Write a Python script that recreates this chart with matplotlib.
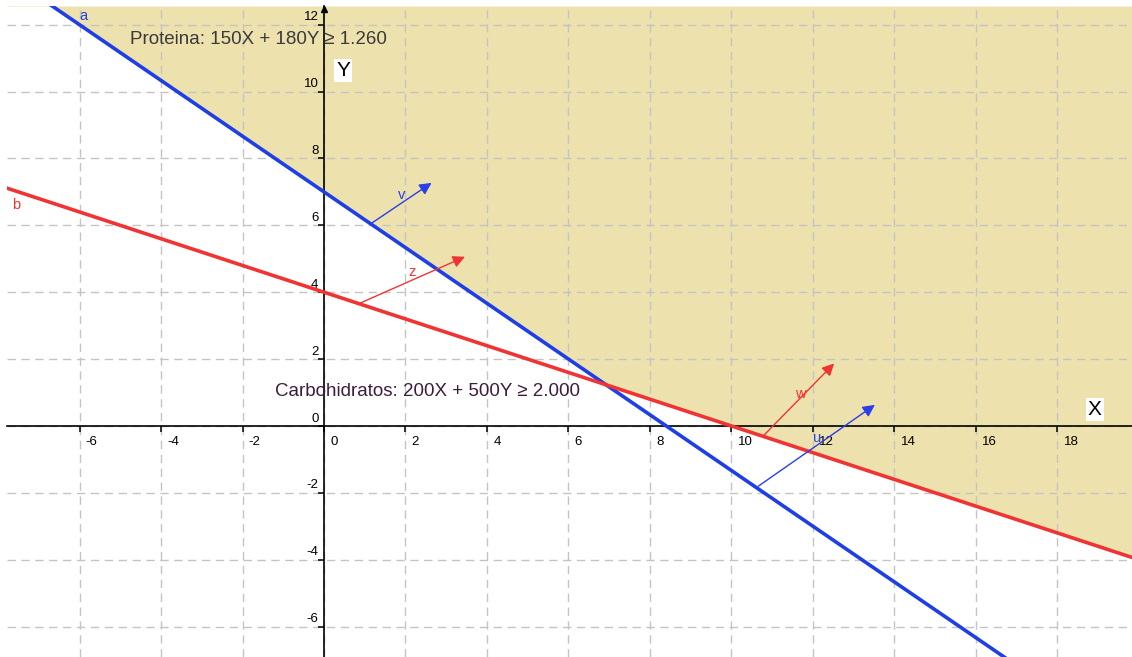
import numpy as np
import matplotlib
matplotlib.use("Agg")
import matplotlib.pyplot as plt

plt.rcParams['font.family'] = ['Liberation Sans', 'DejaVu Sans']

# ---- data ----
# constraint lines: coef_x * X + coef_y * Y = rhs
line_names = ["a", "b"]
coef_x = [150, 200]
coef_y = [180, 500]
rhs = [1260, 2000]
line_colors = ["#1f3fe6", "#f03434"]
line_label_pos = [(-5.9, 12.25), (-7.55, 6.6)]

# vectors (start -> end)
vec_names = ["v", "z", "w", "u"]
vec_start_x = [1.15, 0.86, 10.77, 10.66]
vec_start_y = [6.05, 3.66, -0.31, -1.80]
vec_end_x = [2.64, 3.46, 12.52, 13.52]
vec_end_y = [7.27, 5.06, 1.87, 0.63]
vec_colors = ["#2a3fe8", "#f03434", "#f03434", "#2a3fe8"]
vec_label_x = [1.9, 2.15, 11.7, 12.1]
vec_label_y = [6.9, 4.6, 0.95, -0.36]

x_ticks = [-6, -4, -2, 0, 2, 4, 6, 8, 10, 12, 14, 16, 18]
y_ticks = [-6, -4, -2, 0, 2, 4, 6, 8, 10, 12]

texts = ["Proteina: 150X + 180Y \u2265 1.260", "Carbohidratos: 200X + 500Y \u2265 2.000"]
text_pos = [(-4.75, 11.55), (-1.2, 1.03)]
text_colors = ["#3a3a3a", "#3d1d3d"]

xmin, xmax = -7.78, 19.83
ymin, ymax = -6.91, 12.56

# ---- figure ----
fig = plt.figure(figsize=(11.32, 6.57), dpi=100)
ax = fig.add_axes([7 / 1132, 0, 1125 / 1132, 651 / 657])
ax.set_xlim(xmin, xmax)
ax.set_ylim(ymin, ymax)

# grid
for gx in x_ticks:
    ax.axvline(gx, color="#c4c4c4", lw=1.0, ls=(0, (6, 4)), zorder=1)
for gy in y_ticks:
    ax.axhline(gy, color="#c4c4c4", lw=1.0, ls=(0, (6, 4)), zorder=1)

# feasible region
xs = np.linspace(xmin, xmax, 500)
bounds = np.max([(r - cx * xs) / cy for cx, cy, r in zip(coef_x, coef_y, rhs)], axis=0)
ax.fill_between(xs, bounds, ymax, color="#ede1ad", zorder=0.5, lw=0)

# axes
for s in ["top", "right"]:
    ax.spines[s].set_visible(False)
ax.spines["left"].set_position(("data", 0))
ax.spines["bottom"].set_position(("data", 0))
ax.spines["left"].set_zorder(3)
ax.spines["bottom"].set_zorder(3)
ax.spines["left"].set_linewidth(1.2)
ax.spines["bottom"].set_linewidth(1.2)
ax.set_xticks(x_ticks)
ax.set_yticks(y_ticks)
ax.set_xticklabels([])
ax.set_yticklabels([])
ax.tick_params(direction="out", length=4, width=1.1)
ax.plot([0], [ymax - 0.08], marker="^", color="black", ms=4, zorder=4, clip_on=False)

for t in x_ticks:
    ax.annotate(str(t), (t, 0), xytext=(4.5, -7), textcoords="offset points",
                ha="left", va="top", fontsize=9.5, color="black")
for t in y_ticks:
    ax.annotate(str(t), (0, t), xytext=(-4, 1), textcoords="offset points",
                ha="right", va="bottom", fontsize=9.5, color="black")

# lines
for name, cx, cy, r, c, (lx, ly) in zip(line_names, coef_x, coef_y, rhs, line_colors, line_label_pos):
    ax.plot(xs, (r - cx * xs) / cy, color=c, lw=2.6, zorder=5)
    ax.text(lx, ly, name, color=c, fontsize=10.5, ha="center", va="center", zorder=6)

# vectors
for n, sx, sy, ex, ey, c, lx, ly in zip(vec_names, vec_start_x, vec_start_y, vec_end_x, vec_end_y,
                                        vec_colors, vec_label_x, vec_label_y):
    ax.annotate("", xy=(ex, ey), xytext=(sx, sy),
                arrowprops=dict(arrowstyle="-|>", color=c, lw=1.0, mutation_scale=18,
                                shrinkA=0, shrinkB=0), zorder=6)
    ax.text(lx, ly, n, color=c, fontsize=10.5, ha="center", va="center", zorder=6)

# texts
for t, (tx, ty), c in zip(texts, text_pos, text_colors):
    ax.text(tx, ty, t, color=c, fontsize=13.5, ha="left", va="center", zorder=7)

ax.text(0.47, 10.64, "Y", fontsize=15, ha="center", va="center", zorder=7,
        bbox=dict(facecolor="white", edgecolor="none", pad=1.5))
ax.text(18.92, 0.5, "X", fontsize=15, ha="center", va="center", zorder=7,
        bbox=dict(facecolor="white", edgecolor="none", pad=1.5))

fig.savefig("out.png", dpi=100)
